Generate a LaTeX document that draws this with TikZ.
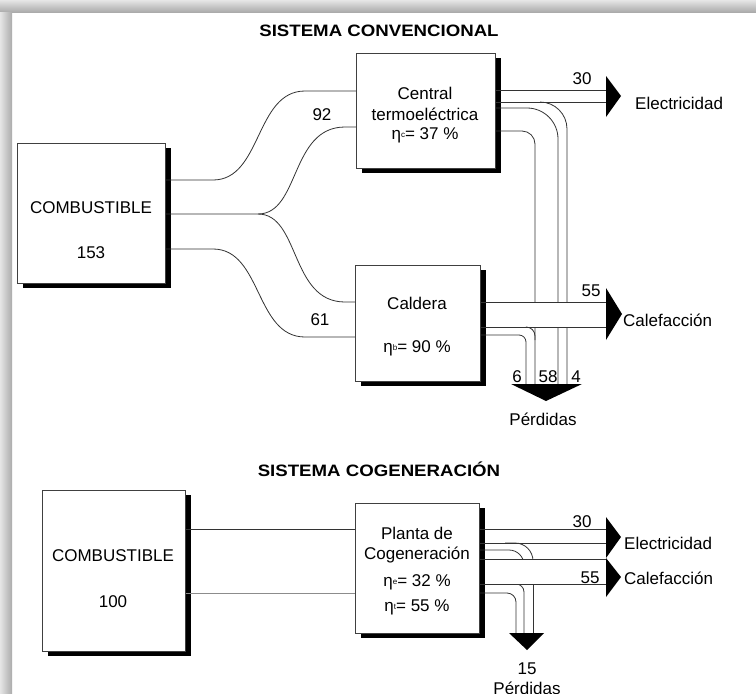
\documentclass[tikz,border=0pt]{standalone}
\usepackage{fontspec}
\setmainfont{Liberation Sans}
\usetikzlibrary{shadows}
\newcommand{\etasub}[1]{η\raisebox{1.5pt}{\fontsize{8}{8}\selectfont #1}}
\begin{document}
\begin{tikzpicture}[x=1pt,y=-1pt,
  box/.style={draw=black!75, line width=0.8pt, fill=white, inner sep=0pt,
    anchor=north west,
    drop shadow={shadow xshift=6pt, shadow yshift=-5pt, opacity=1, fill=black}},
  flow/.style={draw=black!80, line width=0.8pt},
  lbl/.style={font=\fontsize{17}{19}\selectfont, inner sep=0pt},
  ttl/.style={font=\bfseries\fontsize{16.5}{18}\selectfont, inner sep=0pt},
  tip/.style={fill=black}
]
% page and frame
\useasboundingbox (0,0) rectangle (756,694);
\fill[white] (0,0) rectangle (756,694);
\shade[top color=black!10, bottom color=black!33] (0,0) rectangle (756,12);
\shade[left color=black!10, right color=black!33] (0,12) rectangle (12,694);

% ================= conventional system =================
\node[ttl] (title1) at (379,31) {\scalebox{1.13}[1]{SISTEMA CONVENCIONAL}};

\node[box, minimum width=148pt, minimum height=140pt] (comb1) at (17,143) {};
\node[lbl] (comb1a) at (91,208) {COMBUSTIBLE};
\node[lbl] (comb1b) at (91,253) {153};

\node[box, minimum width=139pt, minimum height=115pt] (cen) at (356,53) {};
\node[lbl] (cena) at (425,93) {Central};
\node[lbl] (cenb) at (425,114) {termoeléctrica};
\node[lbl] (cenc) at (425,135) {\etasub{c}= 37 \%};

\node[box, minimum width=125pt, minimum height=116pt] (cal) at (355,265) {};
\node[lbl] (cala) at (417,303) {Caldera};
\node[lbl] (calb) at (417,348) {\etasub{b}= 90 \%};

% fuel split
\draw[flow] (comb1.east |- 0,180) -- (213,180)
  .. controls (262,180) and (255,91) .. (305,91) -- (cen.west |- 0,91);
\draw[flow] (comb1.east |- 0,214) -- (258,214)
  .. controls (300,214) and (290,127) .. (345,127) -- (cen.west |- 0,127);
\draw[flow] (258,214)
  .. controls (300,214) and (290,302) .. (345,302) -- (cal.west |- 0,302);
\draw[flow] (comb1.east |- 0,249) -- (213,249)
  .. controls (262,249) and (255,337) .. (305,337) -- (cal.west |- 0,337);
\node[lbl] (n92) at (322,115) {92};
\node[lbl] (n61) at (320,320) {61};

% losses of the power plant
\draw[flow, rounded corners=27pt] (540,102) -| (567,384);
\draw[flow, rounded corners=31pt] (cen.east |- 0,108) -| (558,384);
\draw[flow, rounded corners=13pt] (cen.east |- 0,131) -| (535,384);

% electricity
\draw[flow] (cen.east |- 0,90) -- (606,90);
\draw[flow] (cen.east |- 0,102) -- (606,102);
\fill[tip] (606,76) -- (621,96) coordinate (elec1) -- (606,117) -- cycle;
\node[lbl, anchor=west] (elec1t) at (635,103) {Electricidad};
\node[lbl] (n30a) at (582,79) {30};

% heating from the boiler (white band hides the loss lines behind it)
\fill[white] ([xshift=6pt]cal.east |- 0,302) rectangle (606,327);
\draw[flow] (cal.east |- 0,302) -- (606,302);
\draw[flow] (cal.east |- 0,327) -- (606,327);
\draw[flow, rounded corners=9pt] (527,327) -| (535,340);
\draw[flow, rounded corners=7pt] (cal.east |- 0,335) -| (526,384);
\fill[tip] (606,288) -- (622,314) coordinate (heat1) -- (606,340) -- cycle;
\node[lbl, anchor=west] (heat1t) at (623,320) {Calefacción};
\node[lbl] (n55a) at (591,291) {55};

% losses
\fill[tip] (511,384) -- (582,384) -- (546,401) coordinate (loss1) -- cycle;
\node[lbl] (n6) at (517,377) {6};
\node[lbl] (n58) at (548,377) {58};
\node[lbl] (n4) at (576,377) {4};
\node[lbl] (loss1t) at (543,419) {Pérdidas};

% ================= cogeneration system =================
\node[ttl] (title2) at (379,469) {\scalebox{1.13}[1]{SISTEMA COGENERACIÓN}};

\node[box, minimum width=143pt, minimum height=161pt] (comb2) at (42,490) {};
\node[lbl] (comb2a) at (113,556) {COMBUSTIBLE};
\node[lbl] (comb2b) at (113,602) {100};

\node[box, minimum width=124pt, minimum height=130pt] (cog) at (355,503) {};
\node[lbl] (coga) at (417,533) {Planta de};
\node[lbl] (cogb) at (417,555) {Cogeneración};
\node[lbl] (cogc) at (417,582) {\etasub{e}= 32 \%};
\node[lbl] (cogd) at (417,607) {\etasub{t}= 55 \%};

\draw[flow] (comb2.east |- 0,529) -- (cog.west |- 0,529);
\draw[flow, draw=black!45] (comb2.east |- 0,593) -- (cog.west |- 0,593);

% loss band passing under the heat band
\draw[flow, rounded corners=18pt] (505,543) -| (533,560);
\draw[flow, rounded corners=15pt] (cog.east |- 0,550) -| (524,560);
\draw[flow] (533,584) -- (533,633);
\draw[flow, rounded corners=8pt] (516,584) -| (524,633);
\draw[flow, rounded corners=9pt] (cog.east |- 0,593) -| (516,633);

% electricity and heat
\fill[white] ([xshift=6pt]cog.east |- 0,559) rectangle (606,584);
\draw[flow] (cog.east |- 0,529) -- (606,529);
\draw[flow] (cog.east |- 0,543) -- (606,543);
\draw[flow] (cog.east |- 0,559) -- (606,559);
\draw[flow] (cog.east |- 0,584) -- (606,584);
\fill[tip] (606,517) -- (621,537) coordinate (elec2) -- (606,558)
  -- (621,577) coordinate (heat2) -- (606,597) -- cycle;
\node[lbl] (n30b) at (582,522) {30};
\node[lbl, anchor=west] (elec2t) at (624,543) {Electricidad};
\node[lbl] (n55b) at (590,578) {55};
\node[lbl, anchor=west] (heat2t) at (624,578) {Calefacción};

\fill[tip] (509,633) -- (544,633) -- (527,650) coordinate (loss2) -- cycle;
\node[lbl] (n15) at (527,669) {15};
\node[lbl] (loss2t) at (527,688) {Pérdidas};
\end{tikzpicture}
\end{document}
